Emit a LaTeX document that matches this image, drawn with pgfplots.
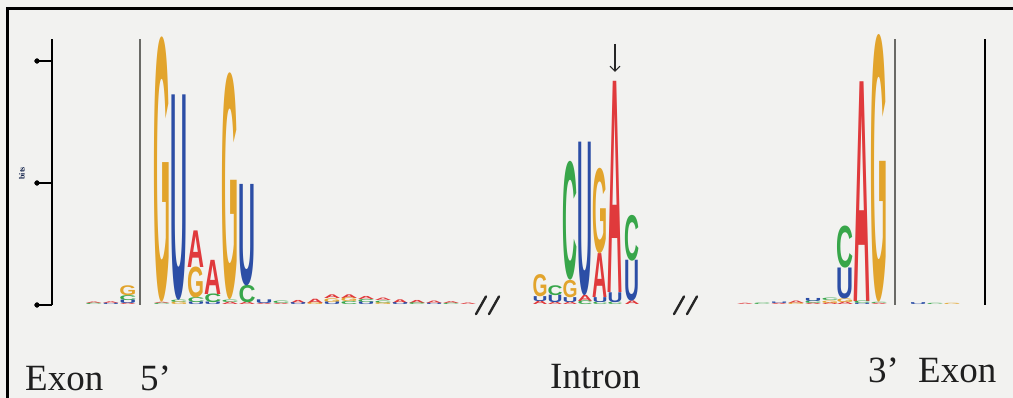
\documentclass[border=0pt]{standalone}
\usepackage{pgfplots}
\pgfplotsset{compat=1.18}
\usepackage{pgfplotstable}
\usepackage{graphicx}
\usepackage{fontspec}
\setmainfont{Liberation Serif}
\newfontfamily\logofont{Liberation Sans}
\usetikzlibrary{arrows.meta}
\definecolor{cA}{HTML}{E03A3C}
\definecolor{cC}{HTML}{38A64A}
\definecolor{cG}{HTML}{E2A42C}
\definecolor{cU}{HTML}{2C4EA6}
\definecolor{bg}{HTML}{F2F2F0}
\definecolor{grayline}{HTML}{6A6A66}

% letter tables: x = column centre, y = bottom of letter (bits), h = height (bits), w = width (px)
\pgfplotstableread{
x y h w
94 0.010 0.012 17
111 0.010 0.014 17
128 0 0.012 17
162 0.010 0.010 17
196 0.310 0.300 17
213 0.090 0.280 17
230 0 0.020 17
247 0 0.020 17
264 0 0.010 17
281 0 0.010 17
298 0.015 0.025 17
315 0.015 0.035 17
332 0.050 0.030 17
349 0.055 0.030 17
366 0.045 0.025 17
383 0.035 0.020 17
400 0.015 0.030 17
417 0.015 0.025 17
434 0.010 0.020 17
451 0.010 0.015 17
468 0 0.012 17
540 0 0.030 15
555 0 0.020 15
570 0 0.020 15
585 0.030 0.050 15
600 0.060 0.360 15
615 0.100 1.730 15
632 0 0.030 15
745 0 0.010 17
779 0 0.010 17
796 0.012 0.020 17
813 0 0.012 17
830 0 0.015 17
845 0 0.020 17
862 0.030 1.800 17
879 0 0.010 17
}\tabA
\pgfplotstableread{
x y h w
94 0 0.010 17
128 0.040 0.040 17
162 0 0.010 17
179 0.020 0.020 17
196 0.020 0.040 17
213 0.020 0.070 17
230 0.020 0.020 17
247 0.020 0.140 17
281 0.010 0.020 17
349 0 0.025 17
366 0.020 0.025 17
383 0.015 0.020 17
417 0 0.015 17
451 0 0.010 17
555 0.080 0.080 15
570 0.200 0.960 15
585 0 0.030 15
600 0 0.020 15
615 0 0.020 15
632 0.360 0.370 15
762 0 0.012 17
813 0.012 0.020 17
830 0.035 0.020 17
845 0.300 0.340 17
862 0.010 0.020 17
879 0.010 0.010 17
935 0 0.010 17
}\tabC
\pgfplotstableread{
x y h w
128 0.080 0.080 17
162 0.020 2.140 17
179 0 0.020 17
196 0.060 0.250 17
230 0.040 1.830 17
315 0 0.015 17
332 0.020 0.030 17
349 0.025 0.030 17
383 0 0.015 17
540 0.070 0.180 15
570 0.060 0.140 15
600 0.420 0.690 15
796 0 0.012 17
830 0.015 0.020 17
845 0.020 0.030 17
879 0.020 2.160 17
952 0 0.010 17
}\tabG
\pgfplotstableread{
x y h w
111 0 0.010 17
128 0.012 0.028 17
179 0.040 1.660 17
196 0 0.020 17
213 0 0.020 17
247 0.160 0.820 17
264 0.010 0.030 17
298 0 0.015 17
332 0 0.020 17
366 0 0.020 17
400 0 0.015 17
434 0 0.010 17
540 0.030 0.040 15
555 0.020 0.060 15
570 0.020 0.040 15
585 0.080 1.240 15
600 0.020 0.040 15
615 0.020 0.080 15
632 0.030 0.330 15
779 0.010 0.012 17
813 0.032 0.025 17
845 0.050 0.250 17
862 0 0.010 17
918 0 0.015 17
}\tabU

\pgfplotsset{
  logo/.style 2 args={
    only marks, mark=none,
    visualization depends on={122*\thisrow{h}\as\hh},
    visualization depends on={\thisrow{w}\as\ww},
    nodes near coords={\resizebox{\ww pt}{\hh pt}{\logofont\bfseries #1}},
    every node near coord/.append style={anchor=south, inner sep=0pt, outer sep=0pt, text=#2},
  },
}

\begin{document}
\begin{tikzpicture}
\useasboundingbox (0,0) rectangle (1013pt,398pt);
\fill[bg] (0,0) rectangle (1013pt,398pt);
\begin{axis}[
  at={(52pt,93pt)}, anchor=south west, scale only axis,
  x=1pt, y=122pt, xmin=52, xmax=1000, ymin=0, ymax=2.18,
  axis x line=none, axis y line=left,
  y axis line style={-, line width=2pt, black},
  ytick={0,1,2}, yticklabels={}, tick align=outside, major tick length=15pt,
  ytick style={line width=1.6pt, black},
  clip=false,
]
\addplot[only marks, mark=*, mark size=2.4pt, black] coordinates {(37,0) (37,1) (37,2)};
\addplot[grayline, line width=1.6pt] coordinates {(140,0) (140,2.18)};
\addplot[grayline, line width=1.6pt] coordinates {(895,0) (895,2.18)};
\addplot[black, line width=2.6pt] coordinates {(985,0) (985,2.18)};
\addplot[logo={A}{cA}] table[x=x, y=y] {\tabA};
\addplot[logo={C}{cC}] table[x=x, y=y] {\tabC};
\addplot[logo={G}{cG}] table[x=x, y=y] {\tabG};
\addplot[logo={U}{cU}] table[x=x, y=y] {\tabU};
\draw[-{Straight Barb[length=5pt,width=10pt]}, line width=1.1pt, black!85] (axis cs:615,2.14) -- (axis cs:615,1.91);
% break marks
\draw[black!85, line width=2.4pt, line cap=round]
  (axis cs:476,-0.075) -- (axis cs:486,0.07)
  (axis cs:489,-0.075) -- (axis cs:499,0.07)
  (axis cs:674,-0.075) -- (axis cs:684,0.07)
  (axis cs:687,-0.075) -- (axis cs:697,0.07);
\node[rotate=90, font=\fontsize{8}{8}\selectfont\bfseries, text=cU!45!black] at (axis cs:22,1.08) {bits};
\end{axis}
\draw[black, line width=3pt] (7pt,0) -- (7pt,389pt) -- (1013pt,389pt);
\begin{scope}[every node/.style={anchor=base west, inner sep=0pt, font=\fontsize{37}{37}\selectfont, text=black!88}]
\node at (25pt,7pt) {Exon};
\node at (140pt,7pt) {5’};
\node at (550pt,9pt) {Intron};
\node at (868pt,15pt) {3’};
\node at (918pt,15pt) {Exon};
\end{scope}
\end{tikzpicture}
\end{document}
